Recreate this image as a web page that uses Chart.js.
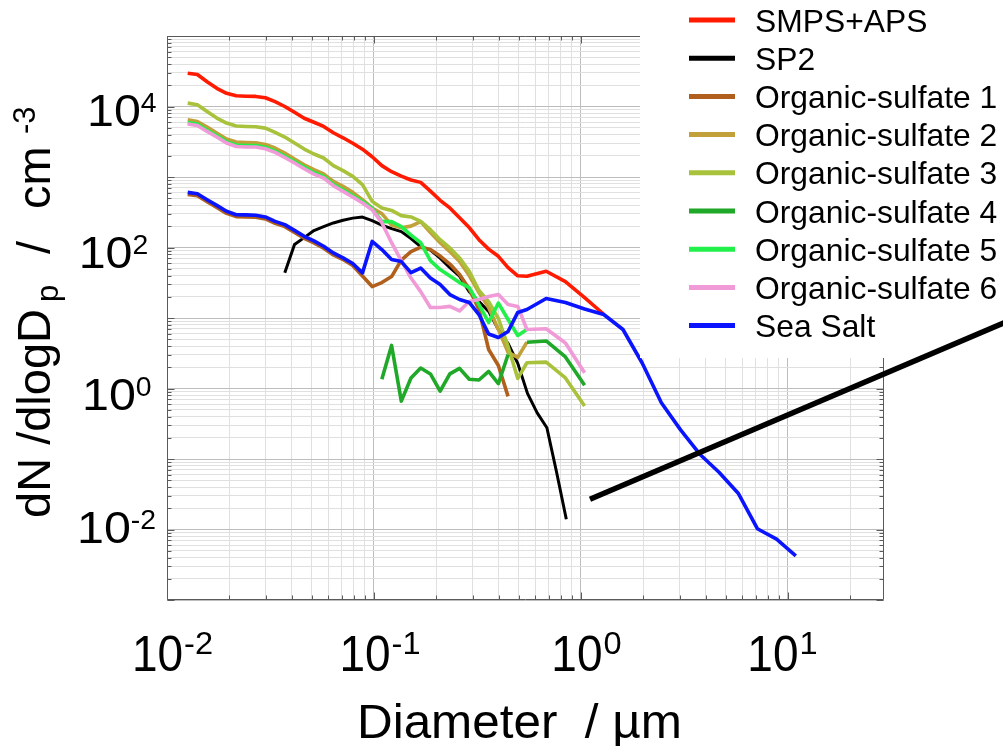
<!DOCTYPE html>
<html>
<head>
<meta charset="utf-8">
<script src="https://cdn.jsdelivr.net/npm/chart.js@4.4.0/dist/chart.umd.min.js"></script>
<style>
  html, body { margin: 0; padding: 0; background: #ffffff; }
  #wrap { width: 1003px; height: 746px; position: relative; }
</style>
</head>
<body>
<div id="wrap"><canvas id="c" width="1003" height="746"></canvas></div>
<script>
// ---------------- DATA ----------------
// SMPS size bins (um)
const smpsDiam = [0.01259, 0.01402, 0.01562, 0.01740, 0.01939, 0.02160, 0.02406, 0.02681, 0.02987, 0.03327,
  0.03707, 0.04130, 0.04601, 0.05126, 0.05711, 0.06362, 0.07088, 0.07896, 0.08796, 0.09797,
  0.1091, 0.1216, 0.1355, 0.1509, 0.1681, 0.1873, 0.2087, 0.2325, 0.2590, 0.2885,
  0.3214, 0.3580, 0.3989, 0.4443, 0.4950, 0.5514, 0.6143, 0.6843, 0.7623, 0.8493];
// APS size bins (um)
const apsDiam = [0.548, 0.679, 0.841, 1.041, 1.288, 1.595, 1.975, 2.445, 3.028, 3.749, 4.642, 5.746, 7.114, 8.809, 10.91];

const seriesNames = ['SMPS+APS', 'SP2', 'Organic-sulfate 1', 'Organic-sulfate 2', 'Organic-sulfate 3',
  'Organic-sulfate 4', 'Organic-sulfate 5', 'Organic-sulfate 6', 'Sea Salt'];

const smpsApsSmps = [29700, 28400, 22400, 18100, 15400, 14200, 14000, 13900, 13300, 11700,
  10000, 8280, 6810, 5980, 5210, 4240, 3600, 3010, 2480, 1940,
  1450, 1190, 1030, 907, 839, 630, 467, 364, 265, 192,
  129, 94.9, 75.0, 51.9, 39.7];
const smpsApsAps = [39.1, 46.0, 32.9, 19.5, 11.3];

const sp2Smps = [null, null, null, null, null, null, null, null, null, null,
  43.7, 110, 138, 174, 198, 223, 244, 261, 270, 240,
  208, 185, 168, 134, 103, 91.9, 70.8, 51.9, 39.3, 23.7,
  17.1, 12.4, 6.87, 4.35, 2.27, 0.852, 0.451, 0.277, 0.0648, 0.0140];

const os1Smps = [567, 543, 447, 371, 305, 274, 272, 268, 254, 220,
  198, 164, 135, 116, 97.5, 78.5, 67.4, 55.4, 39.3, 27.9,
  31.8, 38.7, 66.3, 87.5, 101, 93.4, 75.5, 58.2, 41.3, 25.8,
  13.2, 3.58, 2.12, 0.773];

const os2Smps = [6480, 6130, 5110, 4200, 3450, 3130, 3090, 3060, 2900, 2580,
  2190, 1800, 1490, 1270, 1110, 866, 736, 605, 477, 364,
  302, 208, 191, 201, 233, 163, 117, 87.5, 63.1, 40.0,
  23.0, 14.1, 6.87, 3.25, 2.76];
const os2Aps = [4.54];

const os3Smps = [11170, 10570, 8500, 6850, 5820, 5280, 5210, 5160, 4940, 4280,
  3690, 3030, 2490, 2120, 1860, 1450, 1230, 1020, 778, 451,
  364, 336, 283, 271, 235, 179, 129, 98.7, 71.2, 46.0,
  24.5, 17.1, 9.84, 3.95, 1.39];
const os3Aps = [2.32, 2.37, 1.41, 0.563];

const os4Smps = [null, null, null, null, null, null, null, null, null, null,
  null, null, null, null, null, null, null, null, null, null,
  1.35, 4.08, 0.663, 1.41, 1.95, 1.61, 0.919, 1.61, 1.93, 1.35,
  1.32, 1.75, 1.17, 3.04, null];
const os4Aps = [4.54, 4.72, 2.80, 1.11];

const os5Smps = [5910, 5650, 4650, 3870, 3180, 2850, 2790, 2790, 2650, 2340,
  1980, 1660, 1380, 1160, 1020, 791, 656, 547, 449, 361,
  233, 233, 198, 150, 117, 65.2, 48.6, 39.3, 31.8, 27.0,
  15.5, 8.64, 16.3, 9.52, 5.65];
const os5Aps = [6.87];

const os6Smps = [5630, 5380, 4430, 3690, 3030, 2710, 2660, 2660, 2520, 2230,
  1890, 1580, 1310, 1100, 968, 753, 625, 521, 428, 344,
  225, 117, 65.2, 36.9, 23.7, 14.1, 14.1, 14.6, 12.6, 17.1,
  18.3, 20.2, 21.5, 15.5, 14.6];
const os6Aps = [6.87, 7.03, 4.43, 1.67];

const seaSaltSmps = [605, 580, 477, 396, 326, 292, 290, 286, 271, 235,
  211, 175, 144, 124, 104, 83.8, 71.2, 59.2, 43.7, 122,
  93.4, 67.4, 63.1, 44.1, 51.1, 36.9, 29.8, 21.5, 18.3, 16.6,
  11.2, 5.93, 5.29, 6.44, 12.0];
const seaSaltAps = [13.2, 18.9, 16.6, 13.4, 11.2, 6.87, 2.30, 0.629, 0.259, 0.117,
  0.0648, 0.0327, 0.01026, 0.00729, 0.00423];

const fitLineDiam = [1.105, 115];
const fitLineValues = [0.0269, 8.98];

const xTickValues = [0.01, 0.1, 1, 10];
const xTickExponents = ['-2', '-1', '0', '1'];
const yTickValues = [0.01, 1, 100, 10000];
const yTickExponents = ['-2', '0', '2', '4'];

// ---------------- STYLE ----------------
const colors = ['#ff1a00', '#000000', '#b0601c', '#c2a03a', '#a9c23c', '#20a828', '#22f04a', '#f09ad8', '#0a14ff'];
const widths = [3.6, 3, 3.6, 3.6, 3.6, 3.6, 3.6, 3.6, 3.6];
const FONT = '"Liberation Sans", Arial, Helvetica, sans-serif';
const xLabelNudge = [5, 5.5, 5, -6];
const yLabelLeft = [82, 87, 83.7, 92];
const yLabelBase = [13.3, 21, 20.6, 19.3];

function pts(d, v) { return v.map((y, i) => ({ x: d[i], y: y })); }
const seriesData = [
  pts(smpsDiam, smpsApsSmps).concat(pts(apsDiam, smpsApsAps)),
  pts(smpsDiam, sp2Smps),
  pts(smpsDiam, os1Smps),
  pts(smpsDiam, os2Smps).concat(pts(apsDiam, os2Aps)),
  pts(smpsDiam, os3Smps).concat(pts(apsDiam, os3Aps)),
  pts(smpsDiam, os4Smps).concat(pts(apsDiam, os4Aps)),
  pts(smpsDiam, os5Smps).concat(pts(apsDiam, os5Aps)),
  pts(smpsDiam, os6Smps).concat(pts(apsDiam, os6Aps)),
  pts(smpsDiam, seaSaltSmps).concat(pts(apsDiam, seaSaltAps))
];

const datasets = seriesData.map((d, i) => ({
  label: seriesNames[i], data: d, borderColor: colors[i], backgroundColor: colors[i],
  borderWidth: widths[i], pointRadius: 0, tension: 0, fill: false,
  borderJoinStyle: 'round', spanGaps: false, order: -i
}));
const FIT_INDEX = datasets.length;
datasets.push({
  label: '', data: pts(fitLineDiam, fitLineValues), borderColor: '#000', borderWidth: 5.5,
  pointRadius: 0, fill: false, clip: false, order: -100
});

const X_MAX = 29;
function logGrid(minExp, maxVal) {
  const out = [];
  for (let e = minExp; e <= 6; e++) {
    for (let m = 1; m <= 9; m++) {
      const v = parseFloat((m * Math.pow(10, e)).toPrecision(6));
      if (v <= maxVal * 1.0000001) out.push(v);
    }
  }
  return out;
}
const xGrid = logGrid(-2, X_MAX);
const yGrid = logGrid(-3, 1e5);
function isMajor(v) { const l = Math.log10(v); return Math.abs(l - Math.round(l)) < 1e-6; }
const gridColor = c => (c.tick && isMajor(c.tick.value)) ? '#bdbdbd' : '#e0e0e0';

function txt(ctx, s, x, y, size, hs) {
  ctx.save(); ctx.font = size + 'px ' + FONT; ctx.translate(x, y); ctx.scale(hs, 1);
  ctx.fillText(s, 0, 0); ctx.restore();
}
function tw(ctx, s, size, hs) {
  ctx.save(); ctx.font = size + 'px ' + FONT; const w = ctx.measureText(s).width * hs; ctx.restore(); return w;
}

const deco = {
  id: 'deco',
  beforeDatasetsDraw(chart) {
    const { ctx, chartArea: a, scales: { x, y } } = chart;
    ctx.save();
    ctx.strokeStyle = '#5a5a5a'; ctx.lineWidth = 1;
    const L = Math.round(a.left) + 0.5, R = Math.round(a.right) - 0.5, T = Math.round(a.top) + 0.5, B = Math.round(a.bottom) - 0.5;
    ctx.beginPath();
    ctx.moveTo(L, T); ctx.lineTo(R, T); ctx.lineTo(R, B); ctx.lineTo(L, B); ctx.closePath();
    xGrid.forEach(v => {
      const p = Math.round(x.getPixelForValue(v)) + 0.5; const len = isMajor(v) ? 7 : 4;
      ctx.moveTo(p, B); ctx.lineTo(p, B - len); ctx.moveTo(p, T); ctx.lineTo(p, T + len);
    });
    yGrid.forEach(v => {
      const p = Math.round(y.getPixelForValue(v)) + 0.5; const len = isMajor(v) ? 7 : 4;
      ctx.moveTo(L, p); ctx.lineTo(L + len, p); ctx.moveTo(R, p); ctx.lineTo(R - len, p);
    });
    ctx.stroke();
    ctx.restore();
  },
  beforeDatasetDraw(chart, args) {
    if (args.index !== FIT_INDEX) return;
    const ctx = chart.ctx;
    ctx.save();
    ctx.fillStyle = '#ffffff';
    ctx.fillRect(640, 0, 363, 358);
    seriesNames.forEach((name, i) => {
      const base = 31.5 + 38.2 * i;
      const ly = base - 11.5;
      ctx.strokeStyle = colors[i]; ctx.lineWidth = 5; ctx.lineCap = 'butt';
      ctx.beginPath(); ctx.moveTo(689, ly); ctx.lineTo(735, ly); ctx.stroke();
      ctx.fillStyle = '#000';
      txt(ctx, name, 755, base, 31.5, 1.01);
    });
    ctx.restore();
  },
  afterDraw(chart) {
    const { ctx, scales: { x, y } } = chart;
    ctx.save();
    ctx.fillStyle = '#000';
    ctx.textBaseline = 'alphabetic';
    // x tick labels
    xTickValues.forEach((v, i) => {
      const p = x.getPixelForValue(v);
      const w1 = tw(ctx, '10', 50, 0.92), w2 = tw(ctx, xTickExponents[i], 31, 1.05);
      const sx = p + xLabelNudge[i] - (w1 + w2) / 2;
      txt(ctx, '10', sx, 671, 50, 0.92);
      txt(ctx, xTickExponents[i], sx + w1 + 1, 654, 31, 1.05);
    });
    // y tick labels
    yTickValues.forEach((v, i) => {
      const p = y.getPixelForValue(v);
      const sx = yLabelLeft[i] - 5;
      const base = p + yLabelBase[i];
      const w1 = tw(ctx, '10', 44, 1.1);
      txt(ctx, '10', sx, base, 44, 1.1);
      txt(ctx, yTickExponents[i], sx + w1, base - 14, 27, 1.05);
    });
    // x title
    txt(ctx, 'Diameter  / \u00b5m', 357, 738, 47.5, 1.04);
    // y title
    ctx.save();
    ctx.translate(50, 518);
    ctx.rotate(-Math.PI / 2);
    txt(ctx, 'dN /dlogD', 0, 0, 47, 1);
    txt(ctx, 'p', 216, 8, 31, 1);
    txt(ctx, '/', 264, 0, 47, 1);
    txt(ctx, 'cm', 309, 0, 47, 1);
    txt(ctx, '-3', 384, -15, 31, 1);
    ctx.restore();
    ctx.restore();
  }
};

new Chart(document.getElementById('c'), {
  type: 'line',
  data: { datasets: datasets },
  options: {
    responsive: false, animation: false, devicePixelRatio: 1,
    layout: { padding: { left: 167, top: 36, right: 119.3, bottom: 146 } },
    plugins: { legend: { display: false }, tooltip: { enabled: false }, title: { display: false } },
    scales: {
      x: {
        type: 'logarithmic', min: 0.01, max: X_MAX,
        ticks: { display: false },
        grid: { color: gridColor, lineWidth: 1, drawTicks: false },
        border: { display: false },
        afterBuildTicks: s => { s.ticks = xGrid.map(v => ({ value: v })); }
      },
      y: {
        type: 'logarithmic', min: 0.001, max: 100000,
        ticks: { display: false },
        grid: { color: gridColor, lineWidth: 1, drawTicks: false },
        border: { display: false },
        afterBuildTicks: s => { s.ticks = yGrid.map(v => ({ value: v })); }
      }
    }
  },
  plugins: [deco]
});
</script>
</body>
</html>
